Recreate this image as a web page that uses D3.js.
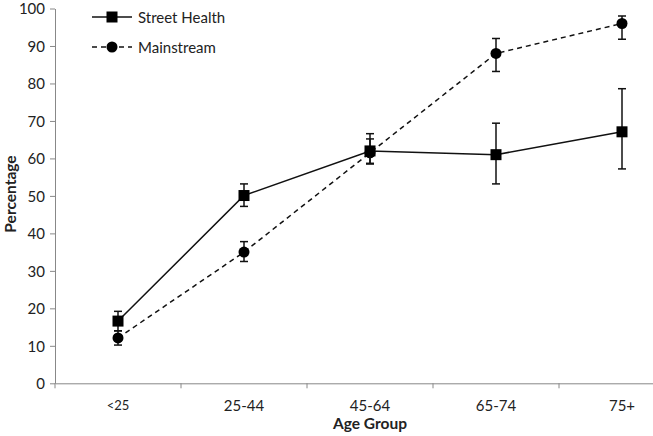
<!DOCTYPE html>
<html><head><meta charset="utf-8">
<script src="https://cdn.jsdelivr.net/npm/d3@7"></script>
<style>body{margin:0;background:#fff}svg{display:block}text{font-family:Lato,"Open Sans",sans-serif}</style>
</head><body><svg id="c" width="653" height="436"></svg>
<script>
const categories = ["<25","25-44","45-64","65-74","75+"];
const streetHealth = [16.6, 50.1, 62.0, 61.0, 67.1];
const streetLow = [14.0, 47.2, 58.7, 53.2, 57.2];
const streetHigh = [19.2, 53.2, 66.6, 69.4, 78.6];
const mainstream = [12.1, 35.0, 61.5, 88.0, 96.0];
const mainLow = [10.2, 32.5, 58.5, 83.2, 91.8];
const mainHigh = [14.0, 37.8, 65.2, 92.0, 98.0];
const yTicks = [0,10,20,30,40,50,60,70,80,90,100];

const svg = d3.select("#c");
const x = d3.scaleBand().domain(categories).range([55, 685]);
const y = d3.scaleLinear().domain([0,100]).range([383.3, 8.5]);
const axisColor = "#888";

const ya = svg.append("g").attr("transform","translate(55,0)")
  .call(d3.axisLeft(y).tickValues(yTicks).tickSize(5).tickSizeOuter(0).tickPadding(5));
ya.selectAll("path,line").attr("stroke",axisColor);
ya.selectAll("text").attr("font-size",15).attr("fill","#222").attr("dy","0.36em");

const xa = svg.append("g").attr("transform","translate(0,383.3)")
  .call(d3.axisBottom(x).tickSize(0).tickPadding(17));
xa.select("path").attr("stroke",axisColor);
xa.selectAll("text").attr("font-size",15).attr("fill","#222");
xa.selectAll("text").filter(d=>d==="<25").attr("font-size",13);
xa.selectAll(".bnd").data(categories).enter().append("line")
  .attr("x1",d=>x(d)).attr("x2",d=>x(d)).attr("y1",0).attr("y2",5).attr("stroke",axisColor);

svg.append("text").attr("transform","translate(16,194) rotate(-90)").attr("text-anchor","middle")
  .attr("font-size",15.5).attr("font-weight","bold").attr("fill","#222").text("Percentage");
svg.append("text").attr("x",370).attr("y",429).attr("text-anchor","middle")
  .attr("font-size",15.5).attr("font-weight","bold").attr("fill","#222").text("Age Group");

const cx = d => x(d) + x.bandwidth()/2;
const series = [
  {vals: mainstream, lo: mainLow, hi: mainHigh, dash: "5,4", shape: "circle"},
  {vals: streetHealth, lo: streetLow, hi: streetHigh, dash: null, shape: "square"}
];
series.forEach(s => {
  const line = d3.line().x((v,i)=>cx(categories[i])).y(v=>y(v));
  svg.append("path").attr("d", line(s.vals)).attr("fill","none").attr("stroke","#111")
    .attr("stroke-width",1.5).attr("stroke-dasharray", s.dash);
  categories.forEach((c,i) => {
    const g = svg.append("g");
    g.append("line").attr("x1",cx(c)).attr("x2",cx(c)).attr("y1",y(s.lo[i])).attr("y2",y(s.hi[i])).attr("stroke","#111").attr("stroke-width",1.5);
    [s.lo[i], s.hi[i]].forEach(v => g.append("line").attr("x1",cx(c)-4).attr("x2",cx(c)+4).attr("y1",y(v)).attr("y2",y(v)).attr("stroke","#111").attr("stroke-width",1.5));
    if (s.shape === "circle") g.append("circle").attr("cx",cx(c)).attr("cy",y(s.vals[i])).attr("r",5.5).attr("fill","#000");
    else g.append("rect").attr("x",cx(c)-5.5).attr("y",y(s.vals[i])-5.5).attr("width",11).attr("height",11).attr("fill","#000");
  });
});

// legend
const legend = [{name:"Street Health", dash:null, shape:"square", y:17},{name:"Mainstream", dash:"5,4", shape:"circle", y:47}];
legend.forEach(l => {
  svg.append("line").attr("x1",92).attr("x2",132).attr("y1",l.y).attr("y2",l.y).attr("stroke","#111").attr("stroke-width",1.5).attr("stroke-dasharray",l.dash);
  if (l.shape==="circle") svg.append("circle").attr("cx",112).attr("cy",l.y).attr("r",5.5).attr("fill","#000");
  else svg.append("rect").attr("x",106.5).attr("y",l.y-5.5).attr("width",11).attr("height",11).attr("fill","#000");
  svg.append("text").attr("x",138).attr("y",l.y+5.5).attr("font-size",15).attr("fill","#222").text(l.name);
});
</script></body></html>
